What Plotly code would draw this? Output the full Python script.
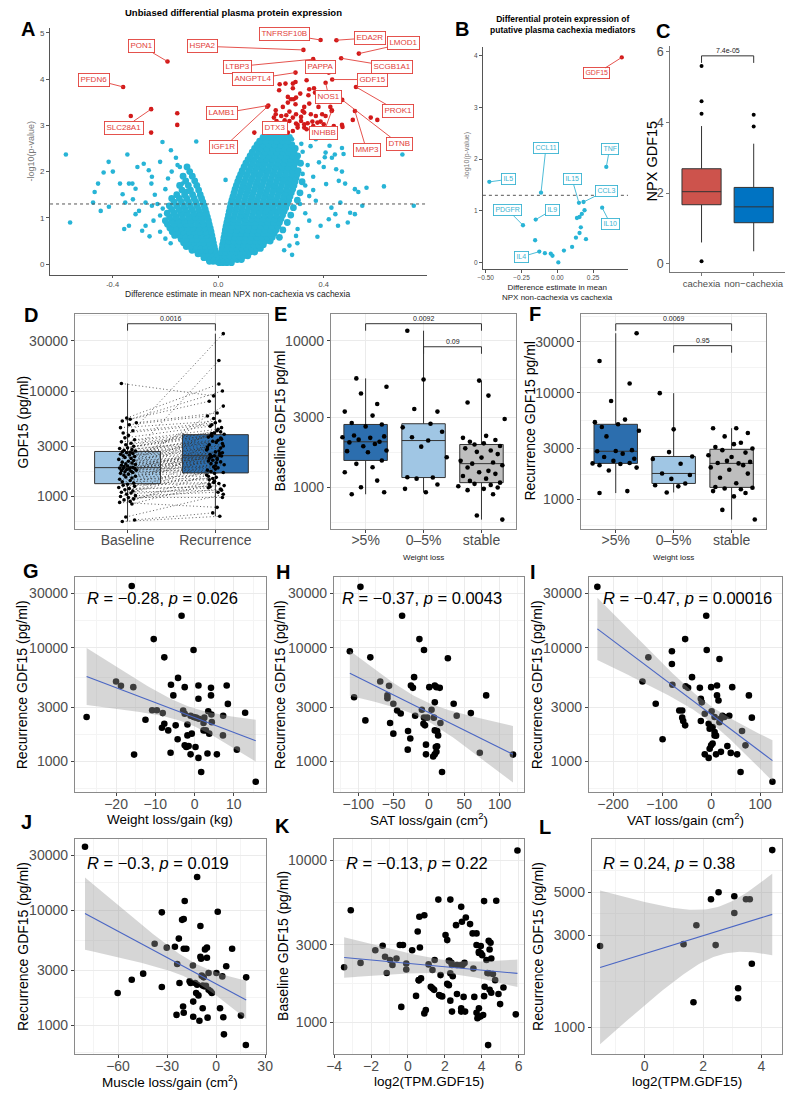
import numpy as np
import plotly.graph_objects as go

# The page body has an 8px margin: the figure is drawn 8px in from the top-left,
# so it is sized to fill exactly the 800x1099 window.
PAGE_W, PAGE_H, BODY_M = 800, 1099, 8
W, H = PAGE_W - 2 * BODY_M, PAGE_H - 2 * BODY_M
FONT = "Liberation Sans"
TICK_C = "#4d4d4d"
CYAN = "#27b4d6"
RED = "#d21a1a"
RED_L = "#e2403a"
CYAN_L = "#3ab4d2"

# ---------------- Panel A : volcano ----------------
a_red_x = [0.233, 0.255, 0.283, 0.293, 0.335, 0.231, 0.283, 0.345, 0.264, 0.276, 0.286, 0.295, 0.311, 0.342,
           0.376, 0.363, 0.367, 0.264, 0.245, 0.293, 0.326, 0.320, 0.345, 0.380, 0.270, 0.295, 0.218, 0.218,
           0.239, 0.258, 0.283, 0.314, 0.326, 0.351, 0.370, 0.394, 0.407, 0.425, 0.431, 0.211, 0.221, 0.252,
           0.270, 0.295, 0.301, 0.314, 0.326, 0.339, 0.357, 0.376, 0.388, 0.400, 0.438, 0.469, 0.471, 0.510,
           0.578, 0.603, 0.326, 0.335, 0.360, 0.283, 0.301, 0.264, 0.137, 0.233, 0.193, -0.331, -0.254,
           -0.155, -0.155]
a_red_y = [3.887, 3.902, 3.902, 3.938, 3.974, 3.758, 3.801, 3.779, 3.614, 3.563, 3.563, 3.599, 3.686, 3.65,
           3.599, 3.801, 3.707, 3.491, 3.398, 3.455, 3.398, 3.311, 3.47, 3.398, 3.297, 3.239, 3.326, 3.239,
           3.203, 3.218, 3.167, 3.182, 3.275, 3.239, 3.203, 3.239, 3.203, 3.398, 3.326, 3.167, 3.095, 3.11,
           3.095, 3.038, 3.009, 3.095, 3.023, 3.045, 3.081, 3.059, 3.081, 3.023, 2.987, 3.009, 2.966, 3.117,
           3.167, 3.117, 2.951, 2.915, 2.987, 2.879, 2.951, 2.843, 2.843, 2.879, 3.023, 3.203, 2.843,
           3.261, 3.009]
a_lab_names = ["TNFRSF10B", "EDA2R", "LMOD1", "HSPA2", "PON1", "PFDN6", "LTBP3", "PAPPA", "SCGB1A1",
               "ANGPTL4", "GDF15", "NOS1", "PROK1", "LAMB1", "SLC28A1", "DTX3", "INHBB", "IGF1R", "MMP3", "DTNB"]
a_lab_px = [0.388, 0.448, 0.533, 0.323, -0.192, -0.36, 0.36, 0.419, 0.466, 0.293, 0.432, 0.407, 0.522,
            0.19, -0.254, 0.23, 0.43, 0.186, 0.518, 0.47]
a_lab_py = [4.845, 4.84, 4.55, 4.63, 4.38, 3.83, 4.43, 4.14, 4.45, 4.14, 3.99, 3.92, 3.83, 3.43, 3.35,
            3.05, 3.31, 3.40, 3.31, 3.55]
a_lab_lx = [0.252, 0.574, 0.704, -0.058, -0.29, -0.47, 0.072, 0.386, 0.657, 0.131, 0.583, 0.419, 0.68,
            0.016, -0.356, 0.215, 0.40, 0.022, 0.562, 0.686]
a_lab_ly = [4.97, 4.89, 4.77, 4.71, 4.71, 3.99, 4.27, 4.27, 4.27, 4.0, 3.99, 3.62, 3.31, 3.26, 2.95,
            2.95, 2.84, 2.53, 2.47, 2.6]

a_cyan_rows_right = [
    (0.03, [0.004, 0.018, 0.033, 0.05]),
    (0.10, [0.007, 0.022, 0.038, 0.055, 0.072, 0.088]),
    (0.18, [0.01, 0.026, 0.044, 0.061, 0.079, 0.097, 0.112]),
    (0.26, [0.012, 0.03, 0.048, 0.067, 0.085, 0.104, 0.121, 0.138]),
    (0.34, [0.015, 0.033, 0.052, 0.071, 0.091, 0.11, 0.128, 0.146, 0.16]),
    (0.42, [0.017, 0.036, 0.056, 0.076, 0.096, 0.115, 0.135, 0.153, 0.171]),
    (0.50, [0.02, 0.04, 0.06, 0.08, 0.1, 0.12, 0.141, 0.16, 0.179, 0.197]),
    (0.58, [0.022, 0.043, 0.063, 0.084, 0.105, 0.126, 0.147, 0.166, 0.186, 0.205, 0.232]),
    (0.66, [0.025, 0.046, 0.067, 0.088, 0.109, 0.13, 0.151, 0.172, 0.193, 0.212]),
    (0.74, [0.027, 0.049, 0.07, 0.092, 0.113, 0.135, 0.156, 0.178, 0.199, 0.219, 0.245]),
    (0.82, [0.03, 0.052, 0.074, 0.096, 0.118, 0.14, 0.161, 0.183, 0.204, 0.226]),
    (0.90, [0.033, 0.055, 0.077, 0.1, 0.122, 0.144, 0.166, 0.188, 0.21, 0.232, 0.262]),
    (0.98, [0.036, 0.058, 0.081, 0.103, 0.126, 0.148, 0.171, 0.193, 0.215, 0.238]),
    (1.06, [0.039, 0.062, 0.085, 0.107, 0.13, 0.153, 0.176, 0.198, 0.221, 0.244, 0.275]),
    (1.14, [0.042, 0.065, 0.088, 0.111, 0.135, 0.158, 0.181, 0.204, 0.227, 0.25]),
    (1.22, [0.045, 0.069, 0.092, 0.116, 0.139, 0.163, 0.186, 0.209, 0.233, 0.256, 0.285]),
    (1.30, [0.048, 0.072, 0.096, 0.12, 0.144, 0.168, 0.191, 0.215, 0.238, 0.261]),
    (1.38, [0.052, 0.076, 0.1, 0.124, 0.148, 0.172, 0.196, 0.22, 0.244, 0.267, 0.3]),
    (1.46, [0.056, 0.08, 0.104, 0.129, 0.153, 0.177, 0.201, 0.225, 0.249, 0.272]),
    (1.54, [0.06, 0.085, 0.109, 0.133, 0.158, 0.182, 0.206, 0.23, 0.254, 0.277, 0.31]),
    (1.62, [0.064, 0.089, 0.113, 0.138, 0.162, 0.187, 0.211, 0.235, 0.259, 0.282]),
    (1.70, [0.069, 0.094, 0.118, 0.143, 0.167, 0.192, 0.216, 0.24, 0.264, 0.287]),
    (1.78, [0.074, 0.099, 0.123, 0.148, 0.172, 0.197, 0.221, 0.245, 0.268, 0.291, 0.318]),
    (1.86, [0.079, 0.104, 0.129, 0.153, 0.178, 0.202, 0.226, 0.25, 0.273, 0.295]),
    (1.94, [0.085, 0.11, 0.135, 0.159, 0.183, 0.208, 0.232, 0.255, 0.278, 0.299]),
    (2.02, [0.091, 0.116, 0.141, 0.165, 0.189, 0.213, 0.237, 0.26, 0.282, 0.303]),
    (2.10, [0.098, 0.123, 0.147, 0.171, 0.195, 0.219, 0.243, 0.265, 0.287]),
    (2.18, [0.105, 0.13, 0.154, 0.178, 0.202, 0.225, 0.248, 0.27, 0.291, 0.312]),
    (2.26, [0.113, 0.137, 0.161, 0.185, 0.208, 0.231, 0.254, 0.276, 0.296]),
    (2.34, [0.121, 0.145, 0.169, 0.192, 0.215, 0.238, 0.26, 0.281, 0.301]),
    (2.42, [0.129, 0.153, 0.176, 0.199, 0.222, 0.244, 0.266, 0.287]),
    (2.50, [0.138, 0.161, 0.184, 0.207, 0.229, 0.251, 0.272, 0.292]),
    (2.58, [0.147, 0.17, 0.192, 0.214, 0.236, 0.258, 0.279]),
    (2.66, [0.157, 0.179, 0.201, 0.222, 0.243, 0.264]),
    (2.74, [0.17, 0.19, 0.21, 0.23, 0.25, 0.27]),
    (2.80, [0.2, 0.22, 0.24]),
]
a_cyan_rows_left = [
    (0.06, [-0.005, -0.019, -0.033]),
    (0.14, [-0.008, -0.023, -0.039, -0.054]),
    (0.22, [-0.01, -0.026, -0.043, -0.06, -0.076]),
    (0.30, [-0.012, -0.03, -0.048, -0.066, -0.083, -0.099]),
    (0.38, [-0.015, -0.033, -0.052, -0.071, -0.089, -0.107, -0.121]),
    (0.46, [-0.018, -0.037, -0.056, -0.076, -0.095, -0.114, -0.131]),
    (0.54, [-0.021, -0.041, -0.061, -0.081, -0.101, -0.121, -0.14]),
    (0.62, [-0.024, -0.045, -0.066, -0.086, -0.107, -0.127, -0.147, -0.165]),
    (0.70, [-0.027, -0.048, -0.07, -0.091, -0.112, -0.133, -0.154, -0.174]),
    (0.78, [-0.03, -0.052, -0.074, -0.096, -0.118, -0.14, -0.161, -0.183]),
    (0.86, [-0.034, -0.056, -0.078, -0.101, -0.123, -0.146, -0.168, -0.192]),
    (0.94, [-0.037, -0.06, -0.083, -0.106, -0.129, -0.152, -0.176, -0.2]),
    (1.02, [-0.041, -0.064, -0.088, -0.111, -0.135, -0.159, -0.184]),
    (1.10, [-0.045, -0.069, -0.093, -0.117, -0.142, -0.167, -0.193]),
    (1.18, [-0.049, -0.074, -0.099, -0.124, -0.149, -0.176]),
    (1.26, [-0.053, -0.079, -0.105, -0.131, -0.157, -0.185]),
    (1.34, [-0.058, -0.085, -0.112, -0.139, -0.167]),
    (1.42, [-0.063, -0.091, -0.119, -0.147, -0.176]),
    (1.50, [-0.068, -0.097, -0.127, -0.157]),
    (1.60, [-0.074, -0.105, -0.137]),
    (1.70, [-0.081, -0.113, -0.146]),
    (1.80, [-0.089, -0.123]),
    (1.90, [-0.098, -0.133]),
    (2.00, [-0.108]),
    (2.10, [-0.118]),
]
a_cyan_sparse_x = [-0.577, -0.561, -0.468, -0.474, -0.445, -0.455, -0.434, -0.415, -0.399, -0.414, -0.372, -0.356,
                   -0.344, -0.338, -0.325, -0.313, -0.306, -0.3, -0.288, -0.282, -0.275, -0.263, -0.253, -0.251,
                   -0.245, -0.22, -0.211, -0.179, -0.176, -0.154, -0.145, -0.135, -0.129, -0.12, -0.112, -0.083,
                   -0.323, -0.362, -0.352, -0.275, -0.251, -0.313, -0.338, -0.23, -0.22, -0.24, -0.2, -0.19,
                   -0.26, -0.2, -0.18, -0.22, -0.16, -0.21,
                   0.028, 0.37, 0.376, 0.388, 0.404, 0.409, 0.422, 0.442, 0.447, 0.454, 0.463, 0.457, 0.469,
                   0.475, 0.481, 0.491, 0.5, 0.518, 0.531, 0.546, 0.628, 0.698, 0.444, 0.419, 0.345, 0.36, 0.339,
                   0.32, 0.345, 0.301, 0.295, 0.382, 0.4, 0.429, 0.37, 0.407, 0.431, 0.469, 0.562, 0.518, 0.741,
                   0.33, 0.33, 0.315, 0.35, 0.3, 0.27, 0.31, 0.28, 0.25, 0.32, 0.36, 0.28, 0.26]
a_cyan_sparse_y = [2.37, 0.9, 1.56, 1.33, 1.15, 1.74, 1.98, 2.21, 2.0, 1.24, 1.74, 0.76,
                   2.37, 1.74, 1.74, 1.63, 2.1, 1.15, 0.72, 2.17, 0.83, 2.03, 1.74, 1.89,
                   0.94, 2.21, 2.64, 2.46, 2.0, 2.14, 2.1, 1.74, 1.56, 1.58, 1.56, 2.65,
                   1.4, 1.51, 1.33, 1.33, 1.26, 1.08, 0.83, 1.3, 1.05, 1.5, 1.62, 1.85,
                   0.6, 0.55, 0.45, 0.7, 2.3, 1.2,
                   1.82, 1.37, 0.59, 0.83, 2.31, 1.73, 2.56, 2.37, 2.05, 0.83, 1.33, 1.8, 2.0,
                   2.38, 1.74, 0.9, 1.11, 1.62, 1.56, 1.26, 1.68, 2.37, 1.08, 0.97, 1.47, 1.89, 2.14,
                   2.43, 0.94, 0.76, 0.61, 2.2, 2.1, 1.22, 2.7, 2.41, 2.3, 2.51, 1.65, 1.08, 1.26,
                   1.7, 1.1, 2.6, 2.55, 0.45, 0.4, 1.3, 0.2, 0.3, 1.95, 1.6, 2.7, 2.75]

# ---------------- Panel B ----------------
b_x = [0.45, 0.342, -0.475, -0.114, 0.151, 0.183, -0.24, -0.151, 0.313, -0.126, -0.155, -0.087, -0.046,
       -0.034, 0.007, 0.046, 0.103, 0.13, 0.155, 0.164, 0.137, 0.155, 0.171, 0.19, 0.2]
b_y = [3.97, 1.85, 1.56, 1.35, 1.155, 1.17, 0.72, 0.83, 1.06, 0.21, 0.43, 0.18, 0.17, 0.13, 0.0, 0.23,
       0.30, 0.48, 0.57, 0.68, 0.86, 0.88, 0.94, 1.01, 0.45]
b_names = ["GDF15", "TNF", "IL5", "CCL11", "IL15", "CCL3", "PDGFR", "IL9", "IL10", "IL4"]
b_lx = [0.274, 0.365, -0.342, -0.08, 0.103, 0.342, -0.347, -0.034, 0.37, -0.247]
b_ly = [3.66, 2.2, 1.61, 2.22, 1.61, 1.39, 1.02, 1.02, 0.75, 0.11]

# ---------------- Panel C ----------------
c_groups = ["cachexia", "non\u2212cachexia"]
c_cachexia = [0.07, 0.6, 0.9, 1.1, 1.25, 1.35, 1.45, 1.52, 1.58, 1.63, 1.67, 1.72, 1.76, 1.8, 1.85, 1.88,
              1.92, 1.96, 1.99, 2.02, 2.04, 2.1, 2.15, 2.2, 2.28, 2.35, 2.42, 2.5, 2.58, 2.65, 2.69, 2.8,
              2.95, 3.1, 3.3, 3.55, 3.75, 3.9, 4.25, 4.6, 5.6]
c_noncachexia = [0.35, 0.55, 0.7, 0.8, 0.9, 0.98, 1.03, 1.08, 1.12, 1.14, 1.16, 1.2, 1.26, 1.32, 1.38,
                 1.43, 1.48, 1.52, 1.56, 1.59, 1.61, 1.66, 1.72, 1.78, 1.84, 1.9, 1.96, 2.02, 2.08, 2.13,
                 2.16, 2.22, 2.3, 2.4, 2.55, 2.7, 2.9, 3.1, 3.4, 3.89, 4.22]

# ---------------- Panel D (paired) ----------------
d_groups = ["Baseline", "Recurrence"]
d_baseline = [580, 600, 640, 850, 880, 900, 930, 950, 980, 1000, 1020, 1050, 1080, 1100, 1130, 1160, 1190,
              1220, 1250, 1280, 1310, 1340, 1380, 1420, 1460, 1500, 1530, 1560, 1600, 1630, 1660, 1690, 1720,
              1740, 1760, 1780, 1800, 1820, 1840, 1850, 1860, 1870, 1890, 1920, 1950, 1980, 2010, 2040, 2080,
              2120, 2160, 2200, 2250, 2300, 2350, 2400, 2440, 2480, 2520, 2560, 2600, 2630, 2650, 2700, 2750,
              2800, 2850, 2900, 3000, 3100, 3200, 3300, 3450, 3600, 3800, 4000, 4200, 4500, 4800, 5000, 5200,
              5400, 5560, 11800]
d_recurrence = [650, 700, 1050, 1300, 790, 1600, 1180, 1400,
                980, 2050, 1100, 1210, 1820, 1150, 2400, 1270,
                1240, 1520, 2820, 1330, 1360, 3580, 1440, 1690,
                1480, 2250, 1560, 2550, 1660, 4500, 1730, 1870,
                1780, 3180, 1910, 1960, 2350, 2000, 3950, 2090,
                2130, 2170, 2700, 2210, 7200, 2290, 2320, 2380,
                2420, 2430, 2950, 2450, 3420, 2500, 2600, 5500,
                2650, 2760, 2880, 3740, 3020, 3100, 3260, 19500,
                3340, 3500, 3660, 4200, 3820, 3900, 4000, 4100,
                4350, 4650, 35000, 4800, 5000, 5200, 5800, 6200,
                8000, 10000, 11650, 9000]
jit_b = [-0.06, 0.08, -0.02, 0.05, -0.09, 0.03, -0.04, 0.07, 0.01, -0.08,
         0.09, -0.01, 0.04, -0.07, 0.06, -0.03, 0.02, -0.10, 0.08, -0.05,
         0.00, 0.07, -0.06, 0.03, -0.09, 0.05, -0.02, 0.09, -0.04, 0.01,
         -0.08, 0.06, -0.03, 0.04, -0.07, 0.10, -0.01, 0.02, -0.05, 0.08,
         -0.09, 0.03, 0.06, -0.04, 0.00, -0.07, 0.09, -0.02, 0.05, -0.06,
         0.01, 0.07, -0.10, 0.04, -0.03, 0.08, -0.05, 0.02, -0.08, 0.06,
         -0.01, 0.03, -0.06, 0.09, -0.04, 0.05, -0.09, 0.00, 0.07, -0.02,
         0.04, -0.07, 0.08, -0.03, 0.01, -0.05, 0.06, -0.08, 0.02, 0.10,
         -0.06, 0.03, -0.01, -0.07]
jit_r = [0.05, -0.03, 0.09, -0.07, 0.02, -0.10, 0.06, -0.01, 0.08, -0.05,
         0.03, -0.08, 0.00, 0.07, -0.04, 0.10, -0.06, 0.01, -0.09, 0.04,
         -0.02, 0.06, -0.07, 0.09, -0.03, 0.02, -0.08, 0.05, -0.01, 0.07,
         -0.05, 0.03, -0.09, 0.08, -0.02, 0.00, -0.06, 0.10, -0.04, 0.01,
         0.06, -0.08, 0.04, -0.03, 0.09, -0.07, 0.02, -0.05, 0.07, -0.01,
         -0.09, 0.05, 0.03, -0.06, 0.08, -0.02, 0.00, -0.10, 0.06, -0.04,
         0.09, -0.07, 0.01, 0.04, -0.03, 0.07, -0.08, 0.02, -0.05, 0.10,
         -0.01, 0.06, 0.03, -0.06, 0.09, -0.04, 0.00, 0.05, -0.09, 0.02,
         -0.07, 0.08, 0.04, -0.02]

# ---------------- Panels E, F ----------------
wl_groups = [">5%", "0\u20135%", "stable"]
e_gt5 = [900, 930, 1005, 1115, 1270, 1375, 1450, 1530, 1740, 1770, 1790, 1910, 1980, 2030, 2050, 2120, 2180,
         2200, 2230, 2260, 2610, 2690, 2750, 3090, 3290, 3710, 4370, 4860, 5540]
e_05 = [930, 980, 1050, 1150, 1170, 1175, 1610, 1900, 2090, 2200, 2400, 2570, 2720, 3290, 3430, 5450, 11700]
e_stable = [605, 645, 900, 960, 980, 1000, 1020, 1040, 1060, 1080, 1110, 1150, 1200, 1240, 1270, 1300, 1370,
            1420, 1455, 1480, 1520, 1600, 1690, 1750, 1790, 1850, 1920, 1965, 2000, 2050, 2110, 2180, 2250,
            2930, 3800, 4230, 5350]
f_gt5 = [1150, 1200, 1870, 1990, 2100, 2150, 2180, 2200, 2300, 2410, 2500, 2690, 2830, 2850, 2900, 3900, 4400,
         4770, 5060, 5300, 5600, 8370, 12200, 19800, 36000]
f_05 = [1165, 1330, 1360, 1415, 1560, 1700, 1755, 2160, 2400, 2530, 2780, 4540, 9900]
f_stable = [650, 800, 1070, 1150, 1200, 1250, 1270, 1290, 1310, 1420, 1600, 1750, 1900, 2000, 2100, 2180, 2200,
            2250, 2300, 2500, 2600, 2750, 2900, 3000, 3100, 3300, 3400, 3900, 4200, 4650, 4650]

# ---------------- Panels G-L (correlations) ----------------
g_x = [-27.5, -10.4, -7.7, -0.25, -3.3, -20, -18.75, -15.6, -15.4, -12.5, -10.8, -9.6, -8.1, -8.3, -7.7, -6.7,
       -4.8, -4.3, -4.2, -6, -5.4, -6.1, -2.5, -2.9, -2.5, -1.8, -1.8, -2.5, -2.1, -1.5, -1, -0.7, -1, -0.2, 0.4,
       1.1, 0.25, 1, 1, 1, 1.7, 2.3, 2.5, 2.3, 2.9, 3.3, 3.75, 3.5, 4.2, 4.2, 4.3, 4.4, 5.7, 7.25, 7.3, 8.2, 8.5,
       10.8, 12.9, 15.6, -16]
g_y = [2450, 11900, 8220, 9550, 19100, 5030, 4610, 4490, 1145, 2320, 2810, 2810, 2655, 1975, 2140, 1870, 2070,
       1560, 5420, 4710, 3800, 1190, 4490, 2800, 2620, 2110, 1690, 1380, 1335, 1360, 1150, 1750, 2515, 2450, 2420,
       2370, 1335, 4640, 3550, 1070, 805, 2170, 2420, 1870, 1870, 1170, 1750, 2760, 4430, 3800, 2580, 2210, 1150,
       1690, 2515, 4640, 3200, 1265, 2670, 660, 34900]
h_x = [-112, -106, -90, -83, -69, -56.5, -58.8, -58.8, -55, -50.4, -50.4, -45, -38, -40, -13.5, -7, -25.5, -21,
       -22.7, -19.5, -29.6, -26.4, -30, -10, -7.8, -5.6, -4.2, -4.2, -7, -2.4, 0.5, 3.7, 7, 8.3, 10.6, 15.3, 8.3,
       8.3, 11.6, 13, 11.6, 9.7, 8.3, 6, 10.6, 16.2, 18.5, 26.8, 35, 39.3, 59.3, 72, 81, 119, -97]
h_y = [9290, 3660, 2290, 8220, 5030, 4610, 3800, 3590, 2170, 1750, 3210, 2800, 19100, 2630, 11900, 9550, 4640,
       5500, 4430, 2515, 1845, 1585, 1265, 2840, 2140, 2070, 1400, 1150, 2420, 2420, 4490, 2840, 2420, 4640, 4490,
       4430, 3300, 1870, 1845, 1690, 1355, 1335, 1150, 1100, 1210, 2170, 805, 8060, 3210, 2515, 2655, 1190, 3800,
       1145, 34300]
i_x = [-128, -140, -113, -99, -80, -80, -79, -65, -59, -59, -57, -53, -52, -47, -53, -39, -23, -21, -21, -19, -13,
       -10, -9, -5, -3, 0, 1, 7, 3, 7, 7, 0, -3, -13, -5, 3, 10, 12, 12, 15, 17, 10, 20, 17, 19, 23, 27, 37, 33, 40,
       43, 53, 60, 63, 70, 77, 83, 125, -232]
i_y = [8220, 5030, 3210, 1560, 9290, 7190, 4710, 2800, 2800, 2420, 2260, 2070, 4570, 4430, 11900, 5500, 4430,
       3550, 2260, 3300, 2620, 19100, 9550, 2140, 1930, 4490, 2760, 2450, 2000, 1810, 1690, 1380, 1290, 1150, 1070,
       1430, 1680, 4640, 3800, 3430, 7940, 1150, 1210, 2210, 2370, 2515, 2450, 2515, 1360, 1185, 4490, 1150, 805,
       1845, 1380, 3800, 2420, 660, 34300]
j_x = [-80.2, -60.2, -51.6, -44.6, -37.6, -33.2, -33.2, -30.2, -25.2, -24.2, -23.8, -22.8, -22.4, -20.8, -19.8,
       -19.8, -20.2, -19.8, -18.2, -19.2, -16.2, -15.6, -14.2, -14, -14, -12.8, -12.2, -11.6, -11.6, -10.8, -10.2,
       -9.6, -9.6, -9.2, -8.8, -8.2, -8.2, -7.6, -7.2, -6.8, -6.2, -5.6, -5.2, -5.6, -4.6, -4.6, -3.4, -2.6, 1, 0.2,
       2.4, 3.8, 4.4, 4.8, 6.2, 9.8, 15.2, 18.4, 18.2]
j_y = [35500, 1900, 2480, 2800, 5100, 9550, 2140, 4710, 4790, 1225, 3400, 5650, 2320, 8220, 8350, 1280, 1450,
       4610, 4610, 12000, 2400, 2320, 3300, 1600, 1180, 2320, 1900, 19400, 2240, 1810, 1090, 7270, 3930, 3770,
       2690, 1400, 2210, 2600, 2170, 4550, 2190, 4710, 1160, 3850, 2840, 2030, 1970, 1900, 9660, 2840, 1400, 2650,
       1170, 830, 3250, 4610, 1210, 2600, 670]
k_x = [-3.46, -3.1, -2.57, -1.77, -1.37, -1.24, -0.97, -1.15, -0.84, -0.62,
       -0.44, -0.36, -0.27, -0.09, -0.09, 0.23, 0.53, 0.62, 0.65, 0.59,
       0.59, 0.71, 0.89, 0.89, 0.97, 0.44, 1.12, 1.33, 1.24, 1.33,
       1.45, 1.42, 1.65, 1.77, 1.69, 1.77, 1.86, 2.04, 2.13, 2.22,
       2.25, 2.36, 2.39, 2.3, 2.43, 2.22, 2.13, 2.3, 2.39, 2.3,
       2.66, 2.61, 2.66, 2.89, 2.96, 2.89, 2.89, 2.89, 3.02, 3.07,
       3.14, 3.1, 2.93, 3.37, 3.51, 3.72, 3.55, 3.6, 3.72, 3.85,
       3.85, 3.95, 3.95, 4.03, 3.72, 3.81, 3.93, 3.77, 3.85, 4.08,
       4.13, 4.16, 4.13, 4.26, 4.31, 4.38, 4.35, 4.38, 4.48, 4.43,
       4.52, 4.43, 4.52, 4.61, 4.73, 4.79, 4.91, 5.0, 5.18, 5.85,
       5.94]
k_y = [2180, 4910, 2320, 2780, 2960, 2530, 2415, 2010, 2250, 2470,
       2990, 1240, 2990, 2300, 2110, 2780, 3630, 4470, 2890, 1815,
       1810, 1860, 4570, 1130, 1185, 1450, 2270, 2095, 1650, 1615,
       2415, 1580, 5710, 1950, 1470, 1450, 1440, 3445, 3210, 2390,
       2390, 2320, 2250, 2000, 1920, 1690, 1720, 1355, 1160, 5710,
       1490, 3970, 2250, 5150, 2250, 2250, 1215, 1160, 1430, 2320,
       4430, 1160, 4170, 4030, 3530, 3530, 2140, 1430, 2990, 2720,
       2670, 2950, 2670, 2590, 1140, 1080, 1080, 1055, 1215, 1105,
       1445, 1650, 5590, 2415, 2010, 2000, 720, 3180, 3090, 2810,
       2470, 1580, 1515, 1980, 1815, 5620, 1490, 1290, 1635, 1115,
       11500]
l_x = [-1.53, 1.33, 1.77, 1.67, 2.27, 2.53, 2.43, 3.07, 3.07, 3.2, 3.2, 3.47, 3.6, 3.67, 4.37]
l_y = [2630, 2690, 3370, 1345, 4600, 5000, 2660, 4770, 3900, 1590, 1410, 4600, 4600, 2130, 8270]

corr_text = ["R = \u22120.28, p = 0.026", "R = \u22120.37, p = 0.0043", "R = \u22120.47, p = 0.00016",
             "R = \u22120.3, p = 0.019", "R = \u22120.13, p = 0.22", "R = 0.24, p = 0.38"]


# ====================================================================
# helpers: every layout position below is given in page pixels (800x1099)
def xd(p0, p1):
    return [(p0 - BODY_M) / W, (p1 - BODY_M) / W]


def yd(p0, p1):
    return [1 - (p1 - BODY_M) / H, 1 - (p0 - BODY_M) / H]


def refs(i):
    return ("x" if i == 1 else f"x{i}"), ("y" if i == 1 else f"y{i}")


def PX(p):
    return (p - BODY_M) / W


def PY(p):
    return 1 - (p - BODY_M) / H


def mids(v):
    v = list(v)
    m = [(a + b) / 2 for a, b in zip(v[:-1], v[1:])]
    return [v[0] - (v[1] - v[0]) / 2] + m + [v[-1] + (v[-1] - v[-2]) / 2]


def classic_axis(domain, rng, tickvals, ticktext, size, lc="#555555", ticklen=3):
    return dict(domain=domain, range=rng, showgrid=False, zeroline=False, showline=True, linecolor=lc,
                linewidth=1, ticks="outside", ticklen=ticklen, tickwidth=1, tickcolor=lc, tickmode="array",
                tickvals=tickvals, ticktext=ticktext, tickfont=dict(size=size, color=TICK_C, family=FONT))


def bw_axis(domain, rng, tickvals, ticktext, minor_vals=None, size=14, standoff=0):
    d = dict(domain=domain, range=rng, showgrid=True, gridcolor="#ebebeb", gridwidth=1, zeroline=False,
             showline=True, mirror=True, linecolor="#8a8a8a", linewidth=1, ticks="outside", ticklen=3,
             tickwidth=1, tickcolor="#444", tickmode="array", tickvals=tickvals, ticktext=ticktext,
             tickfont=dict(size=size, color=TICK_C, family=FONT))
    if standoff:
        d["ticklabelstandoff"] = standoff
    if minor_vals:
        d["minor"] = dict(tickmode="array", tickvals=minor_vals, showgrid=True, gridcolor="#f4f4f4",
                          gridwidth=0.6, ticks="")
    return d


def log_axis(domain, rng, vals, size=14):
    lv = [float(np.log10(v)) for v in vals]
    return bw_axis(domain, rng, lv, [str(v) for v in vals], mids(lv), size)


fig = go.Figure()
layout = {}
ann = []
shapes = []


def set_axes(i, xa, ya):
    xr, yr = refs(i)
    xa["anchor"] = yr
    ya["anchor"] = xr
    layout["xaxis" if i == 1 else f"xaxis{i}"] = xa
    layout["yaxis" if i == 1 else f"yaxis{i}"] = ya


def text(x, y, s, size, color="black", bold=False, angle=0, xanchor="center", yanchor="middle"):
    if bold:
        s = f"<b>{s}</b>"
    ann.append(dict(x=PX(x), y=PY(y), xref="paper", yref="paper", text=s, showarrow=False,
                    font=dict(size=size, color=color, family=FONT), textangle=angle,
                    xanchor=xanchor, yanchor=yanchor))


def bracket(i, x0, x1, y, tip, label):
    xr, yr = refs(i)
    shapes.append(dict(type="path", xref=xr, yref=yr,
                       path=f"M {x0},{y - tip} L {x0},{y} L {x1},{y} L {x1},{y - tip}",
                       line=dict(color="#333", width=1)))
    ann.append(dict(x=(x0 + x1) / 2, y=y, xref=xr, yref=yr, text=label, showarrow=False,
                    yanchor="bottom", font=dict(size=7, color="#222", family=FONT)))


# ---------------- A ----------------
cx, cy = [], []
for yy, xs in a_cyan_rows_right + a_cyan_rows_left:
    cx += xs
    cy += [yy] * len(xs)
fig.add_trace(go.Scatter(x=cx, y=cy, mode="markers", marker=dict(size=6.8, color=CYAN),
                         xaxis="x", yaxis="y", hoverinfo="skip"))
fig.add_trace(go.Scatter(x=a_cyan_sparse_x, y=a_cyan_sparse_y, mode="markers", marker=dict(size=4.6, color=CYAN),
                         xaxis="x", yaxis="y", hoverinfo="skip"))
fig.add_trace(go.Scatter(x=a_red_x + a_lab_px, y=a_red_y + a_lab_py, mode="markers",
                         marker=dict(size=4.6, color=RED), xaxis="x", yaxis="y", hoverinfo="skip"))
set_axes(1, classic_axis(xd(42.7, 426.7), [-0.637, 0.79], [-0.4, 0, 0.4], ["-0.4", "0.0", "0.4"], 7.5,
                         ticklen=2.5),
         classic_axis(yd(27.2, 274), [-0.23, 5.1], [0, 1, 2, 3, 4, 5], ["0", "1", "2", "3", "4", "5"], 8))
shapes.append(dict(type="line", xref="x", yref="y", x0=-0.637, x1=0.79, y0=1.3, y1=1.3,
                   line=dict(color="#555", width=1, dash="dot")))
for nm, px_, py_, lx, ly in zip(a_lab_names, a_lab_px, a_lab_py, a_lab_lx, a_lab_ly):
    ann.append(dict(x=px_, y=py_, xref="x", yref="y", ax=lx, ay=ly, axref="x", ayref="y", text=nm,
                    showarrow=True, arrowhead=0, arrowwidth=0.9, arrowcolor=RED_L, standoff=0,
                    font=dict(size=8, color=RED_L, family=FONT), bgcolor="white", bordercolor=RED_L,
                    borderwidth=0.9, borderpad=1.5))
text(230, 12, "Unbiased differential plasma protein expression", 9.5, bold=True)
text(234, 293, "Difference estimate in mean NPX non-cachexia vs cachexia", 8.5, color="#222")
text(23, 150, "-log10(p-value)", 9, color="#777", angle=-90)

# ---------------- B ----------------
b_cols = [RED] + [CYAN] * (len(b_x) - 1)
fig.add_trace(go.Scatter(x=b_x, y=b_y, mode="markers", marker=dict(size=4.3, color=b_cols),
                         xaxis="x2", yaxis="y2", hoverinfo="skip"))
set_axes(2, classic_axis(xd(484, 632), [-0.52, 0.494], [-0.5, -0.25, 0, 0.25],
                         ["\u22120.50", "\u22120.25", "0.00", "0.25"], 6.5, ticklen=2.5),
         classic_axis(yd(46.1, 268.4), [-0.13, 4.17], [0, 1, 2, 3, 4], ["0", "1", "2", "3", "4"], 6.5))
shapes.append(dict(type="line", xref="x2", yref="y2", x0=-0.52, x1=0.494, y0=1.3, y1=1.3,
                   line=dict(color="#555", width=1, dash="dot")))
for k, nm in enumerate(b_names):
    col = RED_L if k == 0 else CYAN_L
    ann.append(dict(x=b_x[k], y=b_y[k], xref="x2", yref="y2", ax=b_lx[k], ay=b_ly[k], axref="x2",
                    ayref="y2", text=nm, showarrow=True, arrowhead=0, arrowwidth=0.9, arrowcolor=col,
                    standoff=0, font=dict(size=7, color=col, family=FONT), bgcolor="white",
                    bordercolor=col, borderwidth=0.9, borderpad=1.5))
text(566, 24, "Differential protein expression of<br>putative plasma cachexia mediators", 8.5, bold=True)
text(560, 292, "Difference estimate in mean<br>NPX non-cachexia vs cachexia", 8, color="#222")
text(468, 155, "-log10(p-value)", 7, color="#777", angle=-90)

# ---------------- C ----------------
for pos, vals, col in [(1, c_cachexia, "#CD534C"), (2, c_noncachexia, "#0073C2")]:
    fig.add_trace(go.Box(y=vals, x0=pos, width=0.75, fillcolor=col, line=dict(color="#333", width=1),
                         boxpoints="outliers", marker=dict(color="black", size=4), whiskerwidth=0,
                         quartilemethod="inclusive", xaxis="x3", yaxis="y3", hoverinfo="skip"))
set_axes(3, classic_axis(xd(675, 792), [0.4, 2.6], [1, 2], c_groups, 9.5, lc="#777"),
         classic_axis(yd(45, 271), [-0.23, 6.17], [0, 2, 4, 6], ["0", "2", "4", "6"], 12.5, lc="#777"))
bracket(3, 1, 2, 5.89, 0.2, "7.4e-05")
text(656, 160, "NPX GDF15", 14.5, angle=-90)

# ---------------- D ----------------
lb = np.log10(d_baseline)
lr = np.log10(d_recurrence)
for pos, vals, col in [(1, lb, "#a0c6e4"), (2, lr, "#2c6eae")]:
    fig.add_trace(go.Box(y=vals, x0=pos, width=0.75, fillcolor=col, line=dict(color="#333", width=1),
                         boxpoints=False, whiskerwidth=0, quartilemethod="inclusive",
                         xaxis="x4", yaxis="y4", hoverinfo="skip"))
xb = 1 + np.array(jit_b)
xr_ = 2 + np.array(jit_r)
lx_, ly_ = [], []
for a, b, c, d in zip(xb, lb, xr_, lr):
    lx_ += [a, c, None]
    ly_ += [b, d, None]
fig.add_trace(go.Scatter(x=lx_, y=ly_, mode="lines", line=dict(color="#333", width=0.8, dash="1px,2.5px"),
                         xaxis="x4", yaxis="y4", hoverinfo="skip"))
fig.add_trace(go.Scatter(x=list(xb) + list(xr_), y=list(lb) + list(lr), mode="markers",
                         marker=dict(size=3.6, color="black"), xaxis="x4", yaxis="y4", hoverinfo="skip"))
set_axes(4, bw_axis(xd(68, 265), [0.4, 2.6], [1, 2], d_groups, None, 14, standoff=-4),
         log_axis(yd(313, 528), [2.697, 4.733], [1000, 3000, 10000, 30000]))
bracket(4, 1, 2, 4.638, 0.066, "0.0016")
text(15, 421, "GDF15 (pg/ml)", 14, angle=-90)

# ---------------- E, F ----------------
all_jit = 4 * np.array(jit_b + jit_r)
cols3 = ["#2c6eae", "#a0c6e4", "#bebebe"]
off = 0
for i, groups, yr_, vals_ticks, br in [
        (5, [e_gt5, e_05, e_stable], [2.721, 4.184], [1000, 3000, 10000],
         [(1, 3, 4.116, 0.048, "0.0092"), (2, 3, 3.959, 0.048, "0.09")]),
        (6, [f_gt5, f_05, f_stable], [2.729, 4.739], [1000, 3000, 10000, 30000],
         [(1, 3, 4.645, 0.066, "0.0069"), (2, 3, 4.44, 0.066, "0.95")])]:
    xr, yr = refs(i)
    px_all, py_all = [], []
    for pos, vals, col in zip([1, 2, 3], groups, cols3):
        lv = np.log10(vals)
        fig.add_trace(go.Box(y=lv, x0=pos, width=0.75, fillcolor=col, line=dict(color="#333", width=1),
                             boxpoints=False, whiskerwidth=0, quartilemethod="inclusive",
                             xaxis=xr, yaxis=yr, hoverinfo="skip"))
        n = len(vals)
        px_all += list(pos + all_jit[off:off + n])
        py_all += list(lv)
        off += n
    fig.add_trace(go.Scatter(x=px_all, y=py_all, mode="markers", marker=dict(size=4.6, color="black"),
                             xaxis=xr, yaxis=yr, hoverinfo="skip"))
    dom_x = xd(329, 518) if i == 5 else xd(584, 773)
    set_axes(i, bw_axis(dom_x, [0.4, 3.6], [1, 2, 3], wl_groups, None, 14, standoff=-4),
             log_axis(yd(313, 528), yr_, vals_ticks))
    for b in br:
        bracket(i, *b)
text(423.5, 557, "Weight loss", 8, color="#222")
text(678.5, 557, "Weight loss", 8, color="#222")
text(277, 420, "Baseline GDF15 pg/ml", 14, angle=-90)
text(532, 420, "Recurrence GDF15 pg/ml", 14, angle=-90)


# ---------------- G-L ----------------
def smooth(x, y):
    x = np.asarray(x, float)
    ly = np.log10(np.asarray(y, float))
    n = len(x)
    b, a = np.polyfit(x, ly, 1)
    res = ly - (a + b * x)
    s = np.sqrt(np.sum(res ** 2) / (n - 2))
    xm = x.mean()
    sxx = np.sum((x - xm) ** 2)
    xs = np.linspace(x.min(), x.max(), 80)
    fit = a + b * xs
    se = s * np.sqrt(1.0 / n + (xs - xm) ** 2 / sxx)
    t = 1.96 + 2.4 / (n - 2)
    return xs, fit, fit - t * se, fit + t * se


panels = [
    (7, g_x, g_y, xd(68, 263), [-30.5, 18.25], [-20, -10, 0, 10], yd(577, 792), [2.727, 4.618],
     [1000, 3000, 10000, 30000], "Weight loss/gain (kg)", "Recurrence GDF15 (pg/ml)", 165.5, 684, 15, 78, 598),
    (8, h_x, h_y, xd(332, 526), [-134.7, 134.7], [-100, -50, 0, 50, 100], yd(577, 792), [2.727, 4.618],
     [1000, 3000, 10000, 30000], "SAT loss/gain (cm<sup>2</sup>)", "Recurrence GDF15 (pg/ml)", 429, 684, 278,
     338, 598),
    (9, i_x, i_y, xd(592, 789), [-249.4, 144.6], [-200, -100, 0, 100], yd(577, 792), [2.727, 4.618],
     [1000, 3000, 10000, 30000], "VAT loss/gain (cm<sup>2</sup>)", "Recurrence GDF15 (pg/ml)", 690.5, 684, 540,
     604, 598),
    (10, j_x, j_y, xd(68, 263), [-86.4, 30.6], [-60, -30, 0, 30], yd(839, 1054), [2.748, 4.616],
     [1000, 3000, 10000, 30000], "Muscle loss/gain (cm<sup>2</sup>)", "Recurrence GDF15 (pg/ml)", 165.5, 946,
     15, 78, 863),
    (11, k_x, k_y, xd(332, 526), [-4.02, 6.3], [-4, -2, 0, 2, 4, 6], yd(839, 1054), [2.802, 4.13],
     [1000, 3000, 10000], "log2(TPM.GDF15)", "Baseline GDF15 (pg/ml)", 429, 946, 280, 342, 863),
    (12, l_x, l_y, xd(595, 789), [-1.815, 4.706], [0, 2, 4], yd(839, 1054), [2.86, 3.974],
     [1000, 3000, 5000], "log2(TPM.GDF15)", "Recurrence GDF15 (pg/ml)", 692, 946, 540, 604, 863),
]
for k, (i, x, y, dx_, xrng, xt, dy_, yrng, yt, xtitle, ytitle, xtx, yty, ytx, ctx, cty) in enumerate(panels):
    xr, yr = refs(i)
    fig.add_trace(go.Scatter(x=x, y=np.log10(y), mode="markers", marker=dict(size=6.6, color="black"),
                             xaxis=xr, yaxis=yr, hoverinfo="skip"))
    xs, fit, lo, hi = smooth(x, y)
    fig.add_trace(go.Scatter(x=list(xs) + list(xs[::-1]), y=list(hi) + list(lo[::-1]), fill="toself",
                             fillcolor="rgba(153,153,153,0.4)", line=dict(width=0), mode="lines",
                             xaxis=xr, yaxis=yr, hoverinfo="skip"))
    fig.add_trace(go.Scatter(x=xs, y=fit, mode="lines", line=dict(color="#4a66c4", width=1.1),
                             xaxis=xr, yaxis=yr, hoverinfo="skip"))
    xt_text = [str(v).replace("-", "\u2212") for v in xt]
    set_axes(i, bw_axis(dx_, xrng, xt, xt_text, mids(xt), 14, standoff=-4), log_axis(dy_, yrng, yt))
    row_y = 819 if i <= 9 else 1081
    text(xtx, row_y, xtitle, 13.5)
    text(ytx, yty, ytitle, 14, angle=-90)
    r_part, p_part = corr_text[k].split(", ")
    s = "<i>R</i>" + r_part[1:] + ", <i>p</i>" + p_part[1:]
    text(ctx, cty, s, 16.5, xanchor="left")

# ---------------- panel letters ----------------
for L, x, y in [("A", 20, 28), ("B", 463, 28), ("C", 668, 30), ("D", 23, 314), ("E", 278, 313),
                ("F", 537, 313), ("G", 23, 571), ("H", 280, 572), ("I", 535, 572), ("J", 19, 822),
                ("K", 280, 826), ("L", 547, 827)]:
    text(x, y, L, 20, bold=True)

fig.update_layout(width=W, height=H, margin=dict(l=0, r=0, t=0, b=0), paper_bgcolor="white",
                  plot_bgcolor="white", showlegend=False, font=dict(family=FONT, color="black"),
                  annotations=ann, shapes=shapes, **layout)
fig.write_html("out.html")
